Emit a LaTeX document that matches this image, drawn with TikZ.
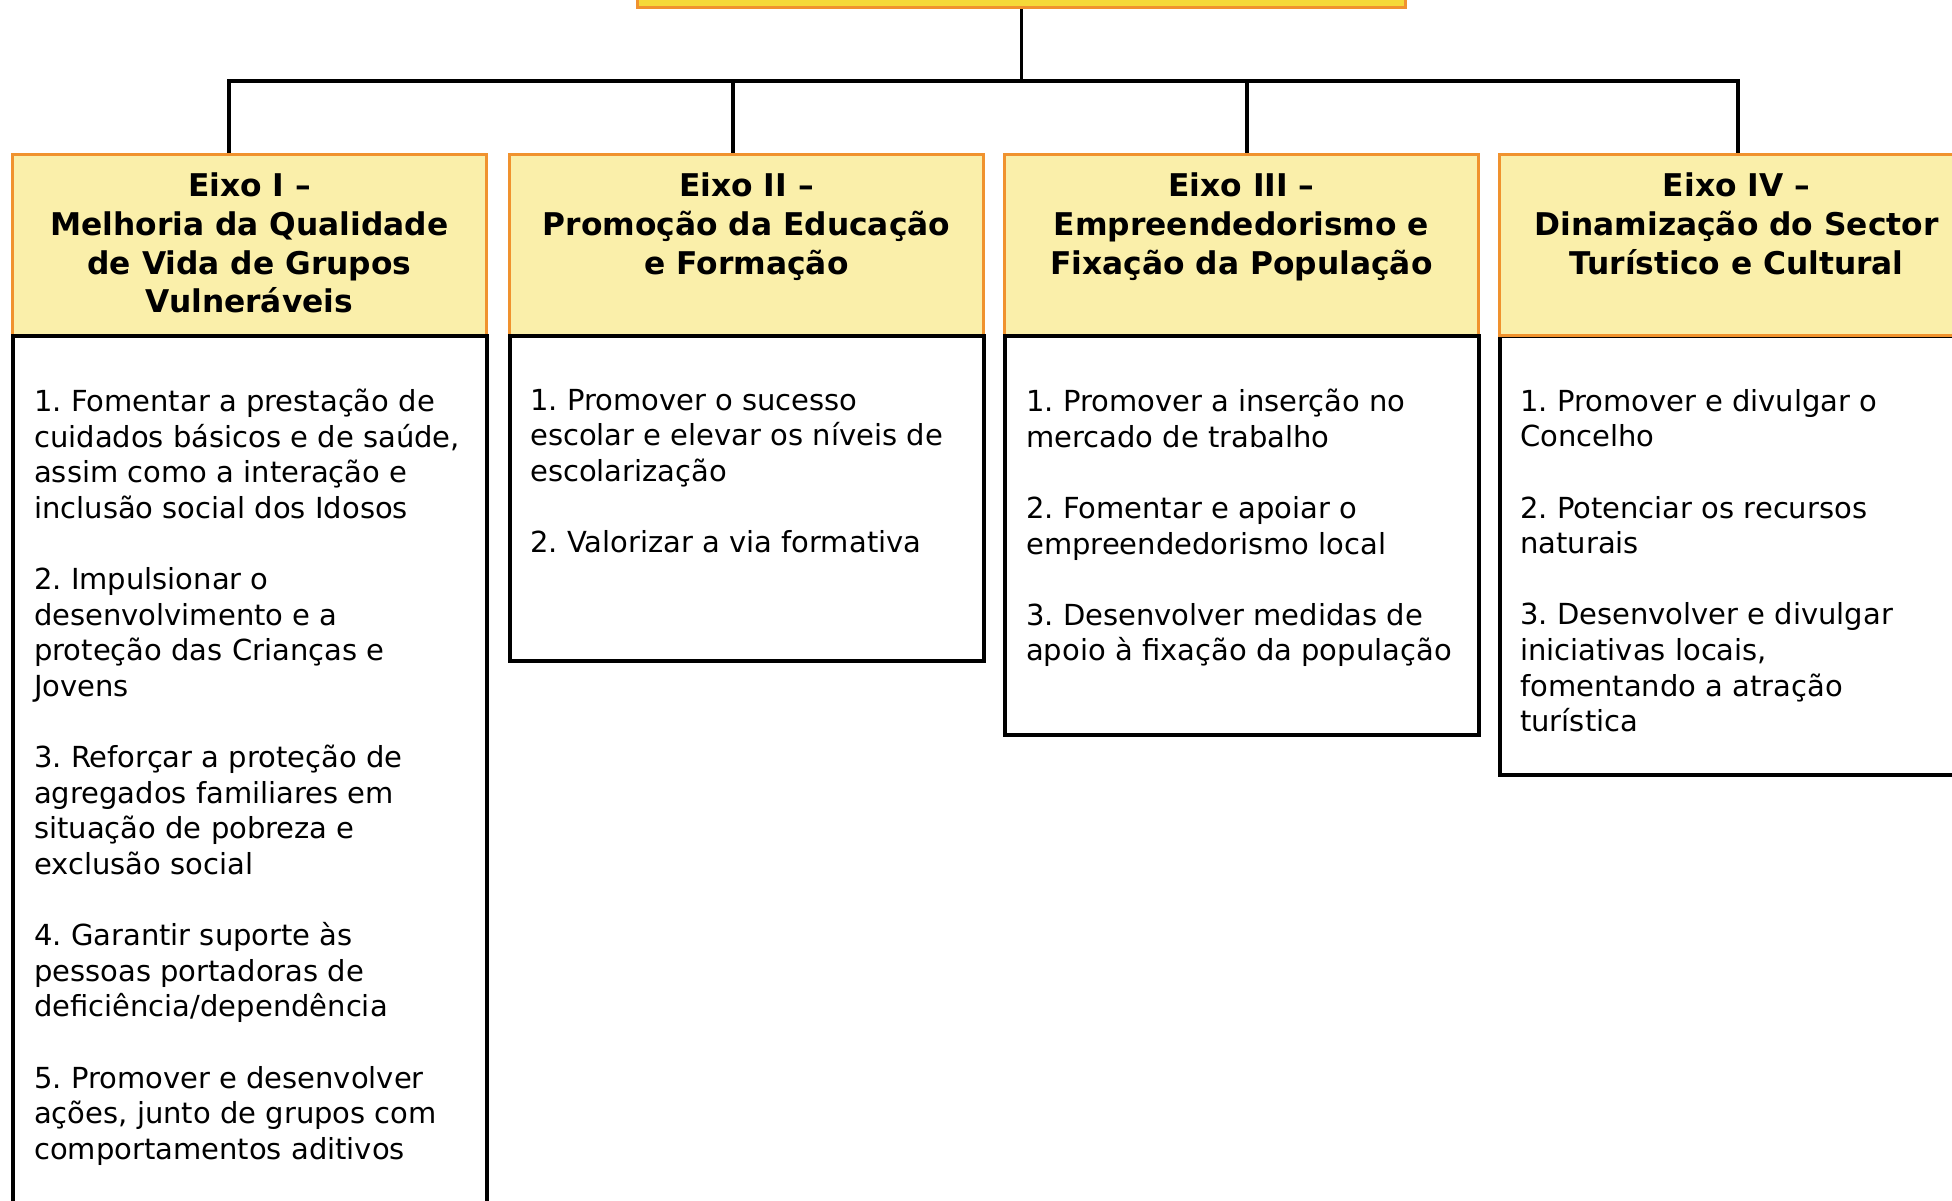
\documentclass[tikz,border=0pt]{standalone}
\usepackage{fontspec}
\setmainfont{DejaVu Sans}
\frenchspacing
\definecolor{hdrfill}{RGB}{250,239,170}
\definecolor{orangeline}{RGB}{240,146,46}
\definecolor{topfill}{RGB}{245,217,56}
\begin{document}
\begin{tikzpicture}[x=1pt,y=-1pt,
  hdr/.style={draw=orangeline, fill=hdrfill, line width=3pt, rectangle, inner sep=0pt,
    minimum width=474pt, minimum height=181pt, anchor=north west},
  bodybox/.style={draw=black, line width=4pt, fill=white, rectangle, inner sep=0pt,
    minimum width=474pt, anchor=north west},
  htext/.style={anchor=north, align=center, inner sep=0pt,
    font=\fontsize{31.3}{38.6}\selectfont\bfseries},
  btext/.style={anchor=north west, align=left, inner sep=0pt,
    font=\fontsize{29}{35.6}\selectfont\frenchspacing},
  conn/.style={draw=black, line width=3.5pt}]
\useasboundingbox (0,0) rectangle (1952,1200);
\clip (0,0) rectangle (1952,1200);

% top box
\node[draw=orangeline, fill=topfill, line width=3pt, rectangle, inner sep=0pt,
  minimum width=768pt, minimum height=60pt, anchor=south west] (top) at (636,9) {};

% headers and bodies
\node[hdr] (h1) at (11,153) {};
\node[bodybox, minimum height=900pt] (b1) at (11,334) {};
\node[hdr] (h2) at (508,153) {};
\node[bodybox, minimum height=325pt] (b2) at (508,334) {};
\node[hdr] (h3) at (1003,153) {};
\node[bodybox, minimum height=399pt] (b3) at (1003,334) {};
\node[bodybox, minimum height=439pt] (b4) at (1498,334) {};
\node[hdr] (h4) at (1498,153) {};

% header texts
\node[htext] (t1) at ([yshift=-20pt]h1.north) {Eixo I –\\Melhoria da Qualidade\\de Vida de Grupos\\Vulneráveis};
\node[htext] (t2) at ([yshift=-20pt]h2.north) {Eixo II –\\Promoção da Educação\\e Formação};
\node[htext] (t3) at ([yshift=-20pt]h3.north) {Eixo III –\\Empreendedorismo e\\Fixação da População};
\node[htext] (t4) at ([yshift=-20pt]h4.north) {Eixo IV –\\Dinamização do Sector\\Turístico e Cultural};

% body texts
\node[btext] (bt1) at (34,389) {1. Fomentar a prestação de\\cuidados básicos e de saúde,\\assim como a interação e\\inclusão social dos Idosos\\[35.6pt]
2. Impulsionar o\\desenvolvimento e a\\proteção das Crianças e\\Jovens\\[35.6pt]
3. Reforçar a proteção de\\agregados familiares em\\situação de pobreza e\\exclusão social\\[35.6pt]
4. Garantir suporte às\\pessoas portadoras de\\deficiência/dependência\\[35.6pt]
5. Promover e desenvolver\\ações, junto de grupos com\\comportamentos aditivos};
\node[btext] (bt2) at (530,389) {1. Promover o sucesso\\escolar e elevar os níveis de\\escolarização\\[35.6pt]
2. Valorizar a via formativa};
\node[btext] (bt3) at (1026,389) {1. Promover a inserção no\\mercado de trabalho\\[35.6pt]
2. Fomentar e apoiar o\\empreendedorismo local\\[35.6pt]
3. Desenvolver medidas de\\apoio à fixação da população};
\node[btext] (bt4) at (1520,389) {1. Promover e divulgar o\\Concelho\\[35.6pt]
2. Potenciar os recursos\\naturais\\[35.6pt]
3. Desenvolver e divulgar\\iniciativas locais,\\fomentando a atração\\turística};

% connectors
\coordinate (bus) at (1021,81);
\coordinate (c1) at (229,153);
\coordinate (c2) at (733,153);
\coordinate (c3) at (1247,153);
\coordinate (c4) at (1738,153);
\draw[conn] (c1) -- (c1 |- bus) -- (c4 |- bus) -- (c4);
\draw[conn] (top.south) -- (top.south |- bus);
\draw[conn] (c2 |- bus) -- (c2);
\draw[conn] (c3 |- bus) -- (c3);
\end{tikzpicture}
\end{document}
